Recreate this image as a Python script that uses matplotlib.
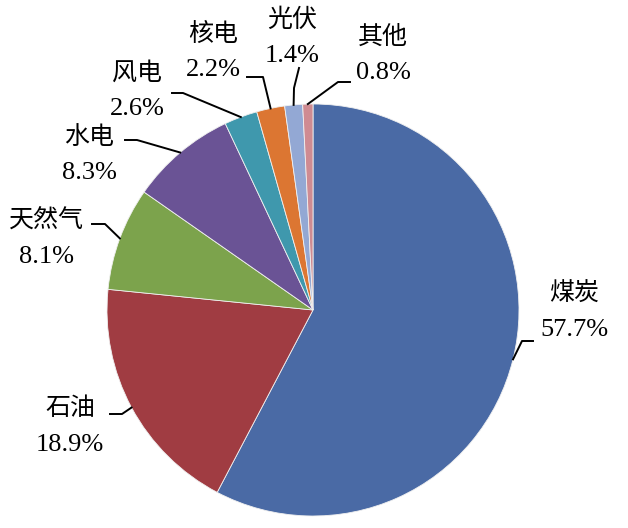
import numpy as np
import matplotlib.pyplot as plt

plt.rcParams['font.family'] = ['Liberation Serif', 'Noto Sans CJK SC']

# data
names = ['煤炭', '石油', '天然气', '水电', '风电', '核电', '光伏', '其他']
shares = [57.7, 18.9, 8.1, 8.3, 2.6, 2.2, 1.4, 0.8]
colors = ['#4a6aa5', '#a03c42', '#7ca34c', '#6a5395', '#3f98ad', '#dc7632', '#93a8d4', '#cf8b92']

# layout in pixels (y from top): elbow of leader line, end of leader line, text centre
elbow = [(522, 341), (122, 414), (105, 224), (137, 140), (183, 93), (263, 77), (294, 88), (338, 82)]
lend = [(533, 341), (110, 414), (92, 224), (125, 140), (172, 93), (247, 77), (299, 68), (350, 82)]
txt = [(574, 294), (70, 409), (46, 221), (89, 137), (137, 73), (213, 34), (292, 20), (383, 37)]

W, H = 628, 528
cx, cy, R = 313, 218, 206

fig = plt.figure(figsize=(W / 100, H / 100), dpi=100)
ax = fig.add_axes([0, 0, 1, 1])

wedges, _ = ax.pie(shares, colors=colors, startangle=90, counterclock=False,
                   center=(cx, cy), radius=R, frame=True,
                   wedgeprops=dict(edgecolor='#f0f0f0', linewidth=0.6))
ax.set_xlim(0, W)
ax.set_ylim(0, H)
ax.axis('off')

for w, n, s, e, l, t in zip(wedges, names, shares, elbow, lend, txt):
    a = np.deg2rad((w.theta1 + w.theta2) / 2)
    x0 = cx + R * np.cos(a)
    y0 = cy + R * np.sin(a)
    ax.plot([x0, e[0], l[0]], [y0, H - e[1], H - l[1]], color='black', lw=1.4)
    ax.text(t[0], H - t[1], n, ha='center', va='center', fontsize=18)
    ax.text(t[0], H - t[1] - 36, '%.1f%%' % s, ha='center', va='center', fontsize=19)

fig.savefig('out.png', dpi=100, facecolor='white')
